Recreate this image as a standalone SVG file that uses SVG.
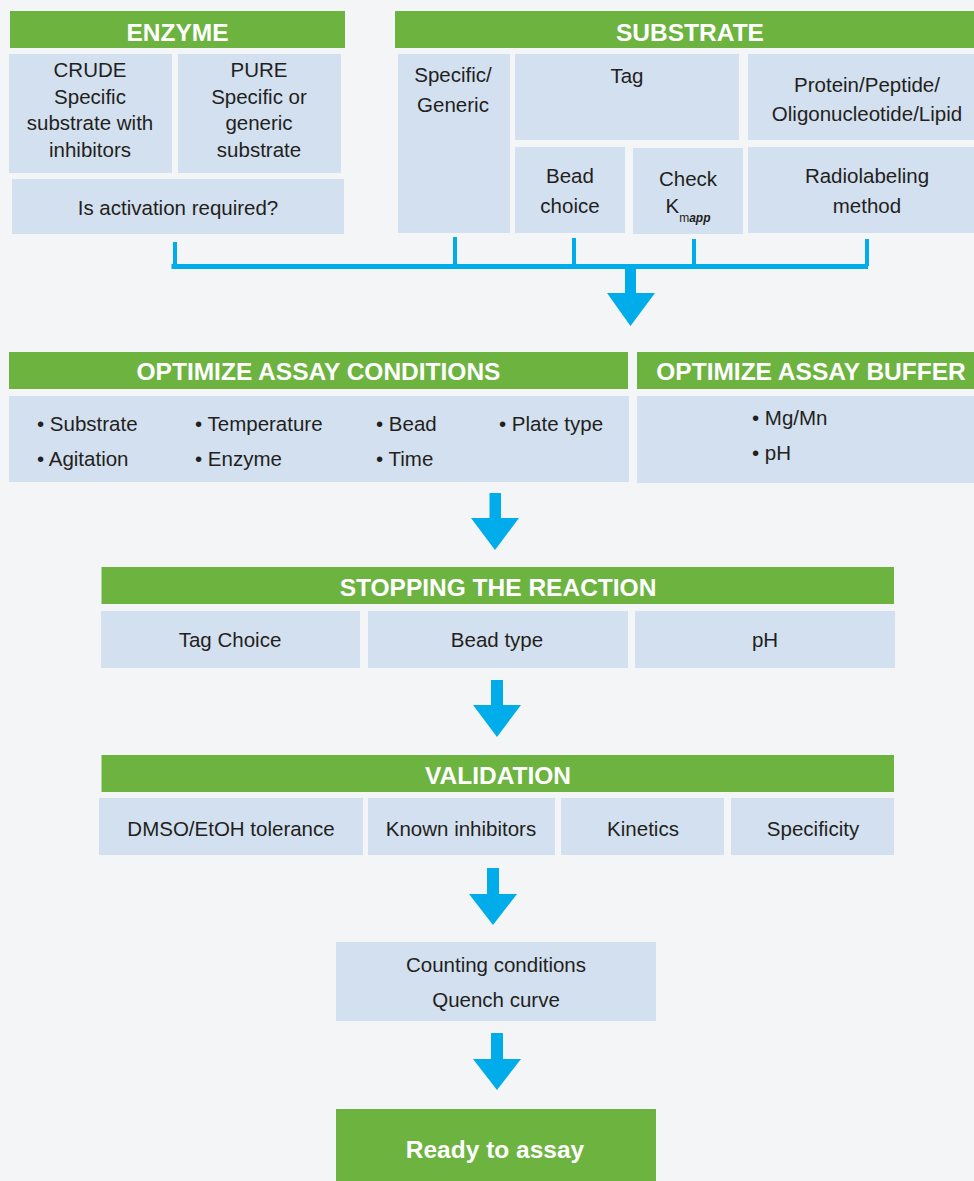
<svg xmlns="http://www.w3.org/2000/svg" width="974" height="1181" viewBox="0 0 974 1181">
<defs>
<style>
.hdr{fill:#6db33f}
.box{fill:#d3e0ef}
.ht{font-family:"Liberation Sans",Arial,sans-serif;font-weight:bold;font-size:24.5px;fill:#ffffff;text-anchor:middle}
.bt{font-family:"Liberation Sans",Arial,sans-serif;font-size:20.5px;fill:#231f20;text-anchor:middle}
.bl{font-family:"Liberation Sans",Arial,sans-serif;font-size:20.5px;fill:#231f20}
.arr{fill:#00adea}
.ln{stroke:#00adea;fill:none}
</style>
</defs>
<rect x="0" y="0" width="974" height="1181" fill="#f4f5f7"/>

<g id="enzyme">
<rect class="hdr" x="10" y="11" width="335" height="37"/>
<text class="ht" x="177.5" y="41">ENZYME</text>
</g>
<g id="crude">
<rect class="box" x="9" y="54" width="163" height="119"/>
<text class="bt" x="90" y="77">CRUDE</text>
<text class="bt" x="90" y="104">Specific</text>
<text class="bt" x="90" y="130">substrate with</text>
<text class="bt" x="90" y="157">inhibitors</text>
</g>
<g id="pure">
<rect class="box" x="178" y="54" width="163" height="119"/>
<text class="bt" x="259" y="77">PURE</text>
<text class="bt" x="259" y="104">Specific or</text>
<text class="bt" x="259" y="130">generic</text>
<text class="bt" x="259" y="157">substrate</text>
</g>
<g id="activation">
<rect class="box" x="12" y="179" width="332" height="55"/>
<text class="bt" x="178" y="215">Is activation required?</text>
</g>

<g id="substrate">
<rect class="hdr" x="395" y="11" width="579" height="37"/>
<text class="ht" x="690" y="41">SUBSTRATE</text>
</g>
<g id="specific">
<rect class="box" x="398" y="54" width="112" height="179"/>
<text class="bt" x="453" y="82">Specific/</text>
<text class="bt" x="453" y="112">Generic</text>
</g>
<g id="tag">
<rect class="box" x="515" y="54" width="224" height="86"/>
<text class="bt" x="627" y="83">Tag</text>
</g>
<g id="protein">
<rect class="box" x="748" y="54" width="226" height="86"/>
<text class="bt" x="867" y="92">Protein/Peptide/</text>
<text class="bt" x="867" y="121">Oligonucleotide/Lipid</text>
</g>
<g id="bead-choice">
<rect class="box" x="515" y="147" width="110" height="86"/>
<text class="bt" x="570" y="183">Bead</text>
<text class="bt" x="570" y="213">choice</text>
</g>
<g id="check-k">
<rect class="box" x="633" y="148" width="110" height="86"/>
<text class="bt" x="688" y="186">Check</text>
<text class="bt" x="688" y="213">K<tspan font-size="12" dy="9">m<tspan font-style="italic" font-weight="bold">app</tspan></tspan></text>
</g>
<g id="radiolabeling">
<rect class="box" x="748" y="147" width="226" height="86"/>
<text class="bt" x="867" y="183">Radiolabeling</text>
<text class="bt" x="867" y="213">method</text>
</g>

<g id="opt-conditions">
<rect class="hdr" x="9" y="352" width="619" height="37"/>
<text class="ht" x="318.5" y="380">OPTIMIZE ASSAY CONDITIONS</text>
<rect class="box" x="9" y="396" width="620" height="86"/>
<text class="bl" x="37" y="431">• Substrate</text>
<text class="bl" x="37" y="466">• Agitation</text>
<text class="bl" x="195" y="431">• Temperature</text>
<text class="bl" x="195" y="466">• Enzyme</text>
<text class="bl" x="376" y="431">• Bead</text>
<text class="bl" x="376" y="466">• Time</text>
<text class="bl" x="499" y="431">• Plate type</text>
</g>
<g id="opt-buffer">
<rect class="hdr" x="637" y="352" width="337" height="37"/>
<text class="ht" x="811" y="380">OPTIMIZE ASSAY BUFFER</text>
<rect class="box" x="637" y="396" width="337" height="87"/>
<text class="bl" x="752" y="425">• Mg/Mn</text>
<text class="bl" x="752" y="460">• pH</text>
</g>

<g id="stopping">
<rect class="hdr" x="101.5" y="567" width="792.5" height="37"/>
<text class="ht" x="498" y="596">STOPPING THE REACTION</text>
</g>
<g id="tag-choice">
<rect class="box" x="101" y="611" width="259" height="57"/>
<text class="bt" x="230" y="647">Tag Choice</text>
</g>
<g id="bead-type">
<rect class="box" x="368" y="611" width="260" height="57"/>
<text class="bt" x="497" y="647">Bead type</text>
</g>
<g id="ph">
<rect class="box" x="635" y="611" width="260" height="57"/>
<text class="bt" x="765" y="647">pH</text>
</g>

<g id="validation">
<rect class="hdr" x="101.5" y="755" width="792.5" height="37"/>
<text class="ht" x="498" y="784">VALIDATION</text>
</g>
<g id="dmso">
<rect class="box" x="99" y="798" width="264" height="57"/>
<text class="bt" x="231" y="836">DMSO/EtOH tolerance</text>
</g>
<g id="known-inhibitors">
<rect class="box" x="368" y="798" width="187" height="57"/>
<text class="bt" x="461" y="836">Known inhibitors</text>
</g>
<g id="kinetics">
<rect class="box" x="561" y="798" width="163" height="57"/>
<text class="bt" x="643" y="836">Kinetics</text>
</g>
<g id="specificity">
<rect class="box" x="731" y="798" width="163" height="57"/>
<text class="bt" x="813" y="836">Specificity</text>
</g>

<g id="counting">
<rect class="box" x="336" y="942" width="320" height="79"/>
<text class="bt" x="496" y="972">Counting conditions</text>
<text class="bt" x="496" y="1007">Quench curve</text>
</g>
<g id="ready">
<rect class="hdr" x="336" y="1109" width="320" height="72"/>
<text class="ht" x="495" y="1158" font-size="25">Ready to assay</text>
</g>

<g id="connectors">
<path class="ln" stroke-width="5" d="M171.5,266.5 H868"/>
<path class="ln" stroke-width="4" d="M175,242 V266 M455,237 V266 M574,238 V266 M694,239 V266 M867,239 V266"/>
<path class="arr" d="M625,268 H636 V293 H655 L630.5,326 L607,293 H625 Z"/>
<path class="arr" d="M489.5,493 H501 V518 H519 L495,550 L471,518 H489.5 Z"/>
<path class="arr" d="M491,680 H503 V705 H521 L497,737 L473,705 H491 Z"/>
<path class="arr" d="M487,868 H499 V894 H517 L493,925 L469,894 H487 Z"/>
<path class="arr" d="M491,1033 H503 V1059 H521 L497,1090 L473,1059 H491 Z"/>
</g>
</svg>
